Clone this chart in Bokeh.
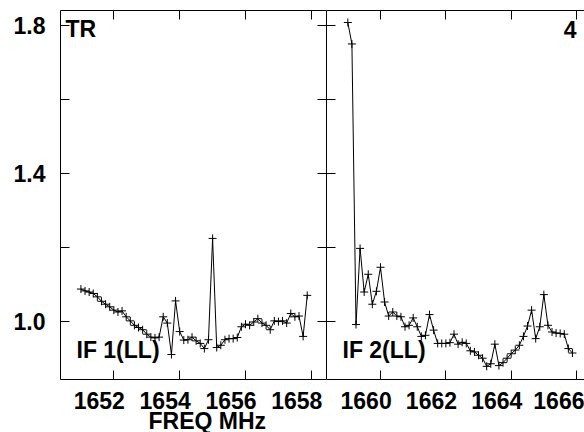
from bokeh.plotting import figure
from bokeh.models import (LinearAxis, FixedTicker, Range1d, Label, Title,
                          CustomJSTickFormatter, PrintfTickFormatter)
from bokeh.layouts import row
from bokeh.embed import file_html
from bokeh.resources import INLINE

# ---------------- data ----------------
freq_if1 = [1651.0, 1651.125, 1651.25, 1651.375, 1651.5, 1651.625, 1651.75, 1651.875,
            1652.0, 1652.125, 1652.25, 1652.375, 1652.5, 1652.625, 1652.75, 1652.875,
            1653.0, 1653.125, 1653.25, 1653.375, 1653.5, 1653.625, 1653.75, 1653.875,
            1654.0, 1654.125, 1654.25, 1654.375, 1654.5, 1654.625, 1654.75, 1654.875,
            1655.0, 1655.125, 1655.25, 1655.375, 1655.5, 1655.625, 1655.75, 1655.875,
            1656.0, 1656.125, 1656.25, 1656.375, 1656.5, 1656.625, 1656.75, 1656.875,
            1657.0, 1657.125, 1657.25, 1657.375, 1657.5, 1657.625, 1657.75, 1657.875]
amp_if1 = [1.087, 1.082, 1.079, 1.075, 1.066, 1.054, 1.046, 1.039,
           1.030, 1.025, 1.028, 1.012, 1.001, 0.989, 0.983, 0.977,
           0.965, 0.957, 0.955, 0.957, 1.012, 0.995, 0.910, 1.055,
           0.972, 0.949, 0.950, 0.957, 0.947, 0.940, 0.926, 0.950,
           1.224, 0.929, 0.935, 0.950, 0.953, 0.953, 0.956, 0.985,
           0.992, 0.989, 0.998, 1.007, 0.995, 0.989, 0.977, 1.001,
           0.999, 1.001, 0.995, 1.021, 1.012, 1.014, 0.959, 1.070]

freq_if2 = [1659.0, 1659.125, 1659.25, 1659.375, 1659.5, 1659.625, 1659.75, 1659.875,
            1660.0, 1660.125, 1660.25, 1660.375, 1660.5, 1660.625, 1660.75, 1660.875,
            1661.0, 1661.125, 1661.25, 1661.375, 1661.5, 1661.625, 1661.75, 1661.875,
            1662.0, 1662.125, 1662.25, 1662.375, 1662.5, 1662.625, 1662.75, 1662.875,
            1663.0, 1663.125, 1663.25, 1663.375, 1663.5, 1663.625, 1663.75, 1663.875,
            1664.0, 1664.125, 1664.25, 1664.375, 1664.5, 1664.625, 1664.75, 1664.875,
            1665.0, 1665.125, 1665.25, 1665.375, 1665.5, 1665.625, 1665.75, 1665.875]
amp_if2 = [1.808, 1.750, 0.991, 1.197, 1.079, 1.127, 1.046, 1.081,
           1.146, 1.052, 1.014, 1.025, 1.014, 1.012, 0.985, 0.989,
           1.009, 0.985, 0.959, 0.962, 1.018, 0.976, 0.940, 0.940,
           0.940, 0.942, 0.965, 0.938, 0.943, 0.940, 0.920, 0.917,
           0.908, 0.900, 0.878, 0.885, 0.938, 0.880, 0.888, 0.900,
           0.912, 0.922, 0.935, 0.959, 0.987, 1.030, 0.953, 0.985,
           1.072, 0.989, 0.971, 0.968, 0.967, 0.965, 0.926, 0.914]

xticks_if1 = [1652, 1654, 1656, 1658]
xticks_if2 = [1660, 1662, 1664, 1666]
yticks_major = [1.0, 1.4, 1.8]
yticks_minor = [1.2, 1.6]
panel_ids = ["TR", "4"]
if_labels = ["IF 1(LL)", "IF 2(LL)"]
x_title = "FREQ MHz"

# ---------------- style ----------------
FONT = "Liberation Sans"
FS = "23px"
H = 432
Y0, Y1 = 0.8424, 1.8405
X1 = (1650.38, 1658.46)
X2 = (1658.347, 1666.244)
PX_PER_MHZ = 32.9
SHIFT = 14.5 / PX_PER_MHZ
TICK = 9


def tick_axis(ticks, minor=()):
    ax = LinearAxis(ticker=FixedTicker(ticks=list(ticks), minor_ticks=list(minor)),
                    formatter=CustomJSTickFormatter(code="return ''"))
    ax.major_tick_in = TICK
    ax.major_tick_out = 0
    ax.minor_tick_in = TICK
    ax.minor_tick_out = 0
    ax.major_label_text_font_size = "0px"
    ax.major_label_standoff = 0
    ax.axis_line_color = "black"
    ax.major_tick_line_color = "black"
    ax.minor_tick_line_color = "black"
    return ax


def label_axis(ticks):
    ax = LinearAxis(x_range_name="lbl", ticker=FixedTicker(ticks=list(ticks), minor_ticks=[]))
    ax.formatter = PrintfTickFormatter(format="%d")
    ax.axis_line_color = None
    ax.major_tick_line_color = None
    ax.minor_tick_line_color = None
    ax.major_tick_in = 0
    ax.major_tick_out = 0
    ax.major_label_standoff = 12
    ax.major_label_text_font = FONT
    ax.major_label_text_font_style = "bold"
    ax.major_label_text_font_size = FS
    ax.major_label_text_color = "black"
    return ax


def text_props():
    return dict(text_font=FONT, text_font_style="bold", text_font_size=FS,
                text_color="black", text_baseline="middle")


def make_panel(xr, width, border_left, freq, amp, xticks, pid, iflabel, first):
    p = figure(width=width, height=H, x_range=Range1d(*xr), y_range=Range1d(Y0, Y1),
               output_backend="svg", toolbar_location=None,
               x_axis_location=None, y_axis_location=None,
               min_border_left=border_left, min_border_right=0,
               min_border_top=10, min_border_bottom=H - 10 - 369)
    p.grid.visible = False
    p.outline_line_color = None
    p.background_fill_color = "white"
    p.border_fill_color = "white"
    p.extra_x_ranges = {"lbl": Range1d(xr[0] + SHIFT, xr[1] + SHIFT)}

    if first:
        yl = LinearAxis(ticker=FixedTicker(ticks=yticks_major, minor_ticks=yticks_minor),
                        formatter=PrintfTickFormatter(format="%.1f"))
        yl.major_tick_in = TICK
        yl.major_tick_out = 0
        yl.minor_tick_in = TICK
        yl.minor_tick_out = 0
        yl.major_label_standoff = 15
        yl.major_label_text_font = FONT
        yl.major_label_text_font_style = "bold"
        yl.major_label_text_font_size = FS
        yl.major_label_text_color = "black"
        yl.axis_line_color = "black"
        p.add_layout(yl, "left")
        p.add_layout(tick_axis(yticks_major, yticks_minor), "right")
    else:
        p.add_layout(tick_axis(yticks_major, yticks_minor), "left")

    p.add_layout(tick_axis(xticks), "above")
    p.add_layout(tick_axis(xticks), "below")
    p.add_layout(label_axis(xticks), "below")

    if first:
        p.add_layout(Title(text=x_title, align="left", offset=88, standoff=-12,
                           vertical_align="bottom", text_font=FONT, text_font_style="bold",
                           text_font_size=FS, text_color="black"), "below")

    p.line(freq, amp, line_color="black", line_width=1)
    p.scatter(freq, amp, marker="cross", size=8, line_color="black", line_width=1)

    if first:
        p.add_layout(Label(x=xr[0], y=Y1, x_offset=5, y_offset=-18.5, text=pid,
                           text_align="left", **text_props()))
    else:
        p.add_layout(Label(x=xr[1], y=Y1, x_offset=-8, y_offset=-18.5, text=pid,
                           text_align="right", **text_props()))
    p.add_layout(Label(x=xr[0], y=Y0, x_offset=16, y_offset=30, text=iflabel,
                       text_align="left", **text_props()))
    return p


p1 = make_panel(X1, 326, 60, freq_if1, amp_if1, xticks_if1, panel_ids[0], if_labels[0], True)
p2 = make_panel(X2, 258, 0, freq_if2, amp_if2, xticks_if2, panel_ids[1], if_labels[1], False)

layout = row(p1, p2, spacing=0)
open("out.html", "w").write(file_html(layout, INLINE))
